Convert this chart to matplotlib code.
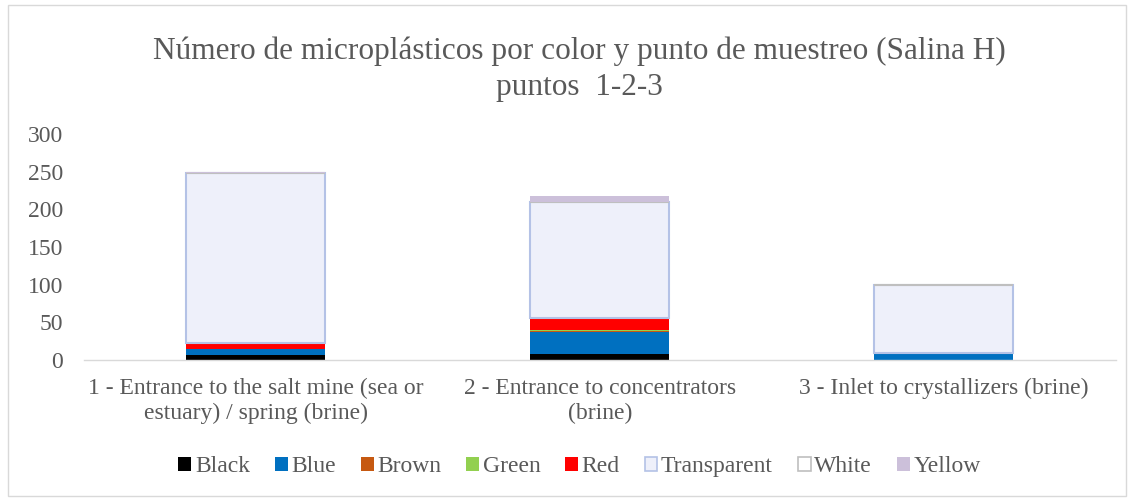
import matplotlib
matplotlib.use("Agg")
import matplotlib.pyplot as plt
import numpy as np
from matplotlib.patches import Rectangle

plt.rcParams["font.family"] = ["Liberation Serif", "DejaVu Serif"]

categories = [
    "1 - Entrance to the salt mine (sea or\nestuary) / spring (brine)",
    "2 - Entrance to concentrators\n(brine)",
    "3 - Inlet to crystallizers (brine)",
]
series_names = ["Black", "Blue", "Brown", "Green", "Red", "Transparent", "White", "Yellow"]
black = [7, 8, 0]
blue = [7, 29, 8]
brown = [0, 2, 0]
green = [0, 1, 0]
red = [8, 16, 1]
transparent = [226, 154, 91]
white = [0, 0, 0]
yellow = [1, 8, 0]
y_ticks = [0, 50, 100, 150, 200, 250, 300]

series = [black, blue, brown, green, red, transparent, white, yellow]
faces = ["#000000", "#0070C0", "#C65911", "#92D050", "#FF0000", "#EEF0FA", "#FFFFFF", "#CCC0DA"]
edges = ["#000000", "#0070C0", "#C65911", "#92D050", "#FF0000", "#B4C2E6", "#BFBFBF", "#CCC0DA"]
text_color = "#595959"

fig = plt.figure(figsize=(11.34, 5.01), dpi=100)
ax = fig.add_axes([0.074, 0.2814, 0.910, 0.4511])

x = np.arange(len(categories))
bottom = np.zeros(len(categories))
handles = []
for name, vals, fc, ec in zip(series_names, series, faces, edges):
    vals = np.asarray(vals, dtype=float)
    lw = 1.5 if name in ("Transparent", "White") else 0
    ax.bar(x, vals, width=0.404, bottom=bottom, color=fc, edgecolor=ec,
           linewidth=lw, label=name)
    bottom += vals
    handles.append(Rectangle((0, 0), 1, 1, facecolor=fc, edgecolor=ec,
                             linewidth=1.2 if lw else 0))

ax.set_xlim(-0.5, 2.5)
ax.set_ylim(0, 300)
ax.set_yticks(y_ticks)
ax.set_xticks(x)
ax.set_xticklabels(categories, fontsize=17, color=text_color, linespacing=1.25)
ax.tick_params(axis="y", length=0, labelsize=17, labelcolor=text_color, pad=15)
ax.tick_params(axis="x", length=0, pad=13)
for side in ("top", "right", "left"):
    ax.spines[side].set_visible(False)
ax.spines["bottom"].set_color("#D9D9D9")
ax.spines["bottom"].set_linewidth(1.0)

fig.text(0.511, 0.862, "Número de microplásticos por color y punto de muestreo (Salina H)\npuntos  1-2-3",
         ha="center", va="center", fontsize=22.5, color=text_color, linespacing=1.35)

fig.legend(handles, series_names, loc="center", bbox_to_anchor=(0.511, 0.068), ncol=8,
           frameon=False, fontsize=17, handlelength=0.55, handleheight=0.55,
           handletextpad=0.15, columnspacing=1.05, labelcolor=text_color)

fig.patches.append(Rectangle((0.007, 0.01), 0.986, 0.98, transform=fig.transFigure,
                             fill=False, edgecolor="#D9D9D9", linewidth=1.0))

fig.savefig("out.png", dpi=100)
